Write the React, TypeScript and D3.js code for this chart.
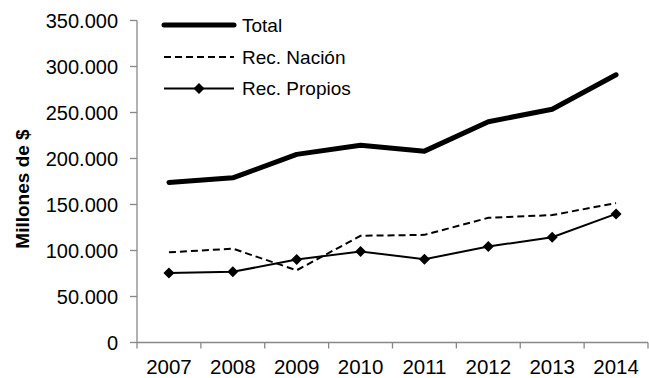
import React from "react";
import * as d3 from "d3";

const years = ["2007", "2008", "2009", "2010", "2011", "2012", "2013", "2014"];
const total = [174000, 179000, 204500, 214500, 208000, 240000, 253500, 291000];
const nacion = [98000, 102000, 78500, 116000, 117000, 135500, 138500, 151500];
const propios = [75500, 76800, 90200, 99000, 90500, 104300, 114500, 139800];
const yTicks = [0, 50000, 100000, 150000, 200000, 250000, 300000, 350000];
const seriesNames = ["Total", "Rec. Nación", "Rec. Propios"];

const W = 649;
const H = 378;
const left = 137;
const right = 648;
const top = 20.5;
const bottom = 342.5;
const font = "'Liberation Sans', Arial, sans-serif";

export default function App() {
  const x = d3.scaleBand<string>().domain(years).range([left, right]);
  const y = d3.scaleLinear().domain([0, 350000]).range([bottom, top]);
  const cx = (i: number) => (x(years[i]) as number) + x.bandwidth() / 2;
  const line = d3
    .line<number>()
    .x((_, i) => cx(i))
    .y((d) => y(d));
  const fmt = (v: number) => (v === 0 ? "0" : d3.format(",")(v).replace(/,/g, "."));
  const diamond = (px: number, py: number, r = 5.5) =>
    `M${px},${py - r}L${px + r},${py}L${px},${py + r}L${px - r},${py}Z`;
  const edges = years.map((yr) => x(yr) as number).concat([right]);

  const legendY = [25, 57, 88.5];
  const lx0 = 164;
  const lx1 = 234;

  return (
    <svg
      width={W}
      height={H}
      style={{ position: "absolute", left: 0, top: 0, background: "#fff" }}
      fontFamily={font}
    >
      <rect width={W} height={H} fill="#fff" />
      {/* axes */}
      <line x1={left} x2={left} y1={top} y2={bottom} stroke="#888" strokeWidth={1.3} />
      <line x1={left} x2={right} y1={bottom} y2={bottom} stroke="#888" strokeWidth={1.3} />
      {yTicks.map((t) => (
        <g key={t}>
          <line x1={left - 7} x2={left} y1={y(t)} y2={y(t)} stroke="#888" strokeWidth={1.3} />
          <text x={118} y={y(t)} dy="0.36em" textAnchor="end" fontSize={20} fill="#000">
            {fmt(t)}
          </text>
        </g>
      ))}
      {edges.map((e, i) => (
        <line key={i} x1={e} x2={e} y1={bottom} y2={bottom + 6} stroke="#888" strokeWidth={1.3} />
      ))}
      {years.map((yr, i) => (
        <text key={yr} x={cx(i)} y={373.5} textAnchor="middle" fontSize={20.5} fill="#000">
          {yr}
        </text>
      ))}
      <text
        transform={`translate(28.5, ${(130 + 248) / 2}) rotate(-90)`}
        textAnchor="middle"
        fontSize={19}
        fontWeight="bold"
        fill="#000"
      >
        Millones de $
      </text>

      {/* series */}
      <path d={line(nacion) || ""} fill="none" stroke="#000" strokeWidth={2} strokeDasharray="7,4" />
      <path d={line(propios) || ""} fill="none" stroke="#000" strokeWidth={2} />
      {propios.map((v, i) => (
        <path key={i} d={diamond(cx(i), y(v))} fill="#000" />
      ))}
      <path
        d={line(total) || ""}
        fill="none"
        stroke="#000"
        strokeWidth={5}
        strokeLinejoin="round"
        strokeLinecap="round"
      />

      {/* legend */}
      <line x1={lx0} x2={lx1} y1={legendY[0]} y2={legendY[0]} stroke="#000" strokeWidth={5} strokeLinecap="round" />
      <line x1={lx0} x2={lx1} y1={legendY[1]} y2={legendY[1]} stroke="#000" strokeWidth={2} strokeDasharray="7,4" />
      <line x1={lx0} x2={lx1} y1={legendY[2]} y2={legendY[2]} stroke="#000" strokeWidth={2} />
      <path d={diamond((lx0 + lx1) / 2, legendY[2])} fill="#000" />
      {seriesNames.map((n, i) => (
        <text key={n} x={242} y={legendY[i]} dy="0.36em" fontSize={19} fill="#000">
          {n}
        </text>
      ))}
    </svg>
  );
}
